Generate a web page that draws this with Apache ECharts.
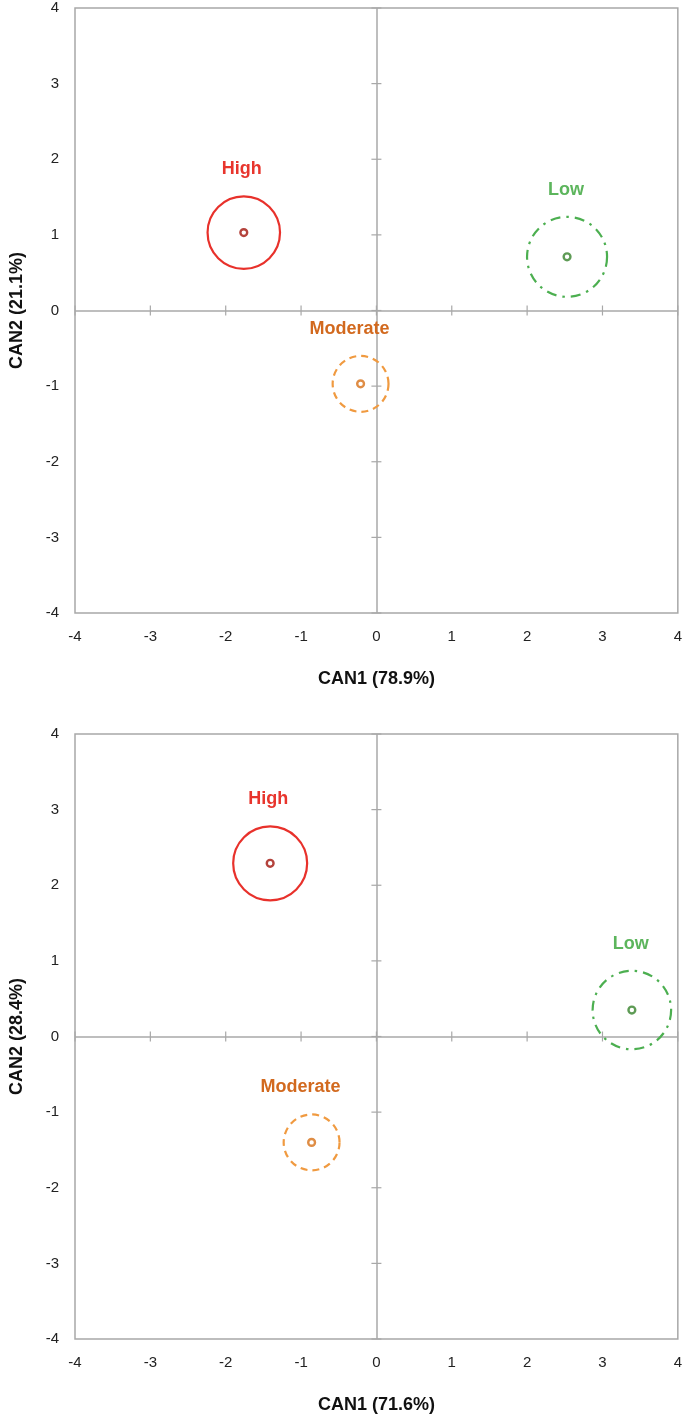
<!DOCTYPE html>
<html>
<head>
<meta charset="utf-8">
<script src="https://cdn.jsdelivr.net/npm/echarts@6/dist/echarts.min.js"></script>
<style>
html,body{margin:0;padding:0;background:#fff;}
#chart{width:685px;height:1416px;}
</style>
</head>
<body>
<div id="chart"></div>
<script>
// ---- data ----
const groups = ['High', 'Moderate', 'Low'];
const can1Top = [-1.76, -0.21, 2.53];
const can2Top = [1.03, -0.97, 0.71];
const radiusTop = [0.48, 0.37, 0.53];
const can1Bottom = [-1.41, -0.86, 3.39];
const can2Bottom = [2.29, -1.40, 0.35];
const radiusBottom = [0.49, 0.37, 0.52];
const tickValues = [-4, -3, -2, -1, 0, 1, 2, 3, 4];
const xNames = ['CAN1 (78.9%)', 'CAN1 (71.6%)'];
const yNames = ['CAN2 (21.1%)', 'CAN2 (28.4%)'];

// ---- styles ----
const FONT = '"Liberation Sans", Arial, sans-serif';
const AXIS_GRAY = '#a8a8a8';
const groupStyle = {
  High:     { stroke: '#e8312b', label: '#e8352d', center: '#b4433c', dash: null,           dx: -2 },
  Moderate: { stroke: '#f09a40', label: '#d2691e', center: '#df8d45', dash: [7, 5],        dx: -11 },
  Low:      { stroke: '#4caf50', label: '#5cb55c', center: '#5e9b55', dash: [10, 6, 2.5, 6], dx: -1 }
};

const chart = echarts.init(document.getElementById('chart'), null, { renderer: 'canvas' });

function makeGrid(top) {
  return { left: 73, top: top, width: 606, height: 605, show: true,
           borderColor: AXIS_GRAY, borderWidth: 1.5, backgroundColor: 'transparent' };
}
function makeAxis(dim, gi, name) {
  const isX = dim === 'x';
  return {
    gridIndex: gi, type: 'value', min: -4, max: 4, interval: 1,
    axisLine: { show: false }, axisTick: { show: false }, splitLine: { show: false },
    axisLabel: { color: '#222', fontSize: 15, fontFamily: FONT, margin: 16 },
    name: name, nameLocation: 'middle', nameGap: isX ? 57 : 49,
    nameTextStyle: { color: '#111', fontSize: 18, fontWeight: 'bold', fontFamily: FONT }
  };
}

function zeroSeries(gi) {
  return {
    type: 'custom', xAxisIndex: gi, yAxisIndex: gi, silent: true, clip: false, z: 1,
    data: tickValues.map(v => [v]),
    renderItem: function (params, api) {
      const t = api.value(0);
      const p1 = api.coord([0, t]);
      const p2 = api.coord([t, 0]);
      const st = { stroke: AXIS_GRAY, lineWidth: 1.2 };
      return { type: 'group', children: [
        { type: 'line', shape: { x1: p1[0] - 5, y1: p1[1], x2: p1[0] + 5, y2: p1[1] }, style: st },
        { type: 'line', shape: { x1: p2[0], y1: p2[1] - 5, x2: p2[0], y2: p2[1] + 5 }, style: st }
      ]};
    },
    markLine: {
      silent: true, symbol: 'none', label: { show: false },
      lineStyle: { color: AXIS_GRAY, width: 1.5, type: 'solid' },
      data: [{ xAxis: 0 }, { yAxis: 0 }]
    }
  };
}

function groupSeries(gi, xs, ys, rs) {
  return {
    type: 'custom', xAxisIndex: gi, yAxisIndex: gi, clip: false, z: 5,
    data: groups.map((g, i) => [xs[i], ys[i], rs[i], i]),
    renderItem: function (params, api) {
      const c = api.coord([api.value(0), api.value(1)]);
      const sz = api.size([api.value(2), api.value(2)]);
      const r = (sz[0] + sz[1]) / 2;
      const g = groups[api.value(3)];
      const s = groupStyle[g];
      const circleStyle = { fill: 'none', stroke: s.stroke, lineWidth: 2.2 };
      if (s.dash) circleStyle.lineDash = s.dash;
      return { type: 'group', children: [
        { type: 'circle', shape: { cx: c[0], cy: c[1], r: r }, style: circleStyle },
        { type: 'circle', shape: { cx: c[0], cy: c[1], r: 3.4 },
          style: { fill: '#fff', stroke: s.center, lineWidth: 2.4 } },
        { type: 'text', style: {
            text: g, x: c[0] + s.dx, y: c[1] - r - 27,
            fill: s.label, font: 'bold 18px ' + FONT,
            align: 'center', verticalAlign: 'middle' } }
      ]};
    }
  };
}

chart.setOption({
  animation: false,
  backgroundColor: '#fff',
  grid: [makeGrid(8), makeGrid(734)],
  xAxis: [makeAxis('x', 0, xNames[0]), makeAxis('x', 1, xNames[1])],
  yAxis: [makeAxis('y', 0, yNames[0]), makeAxis('y', 1, yNames[1])],
  series: [
    zeroSeries(0), zeroSeries(1),
    groupSeries(0, can1Top, can2Top, radiusTop),
    groupSeries(1, can1Bottom, can2Bottom, radiusBottom)
  ]
});
</script>
</body>
</html>
